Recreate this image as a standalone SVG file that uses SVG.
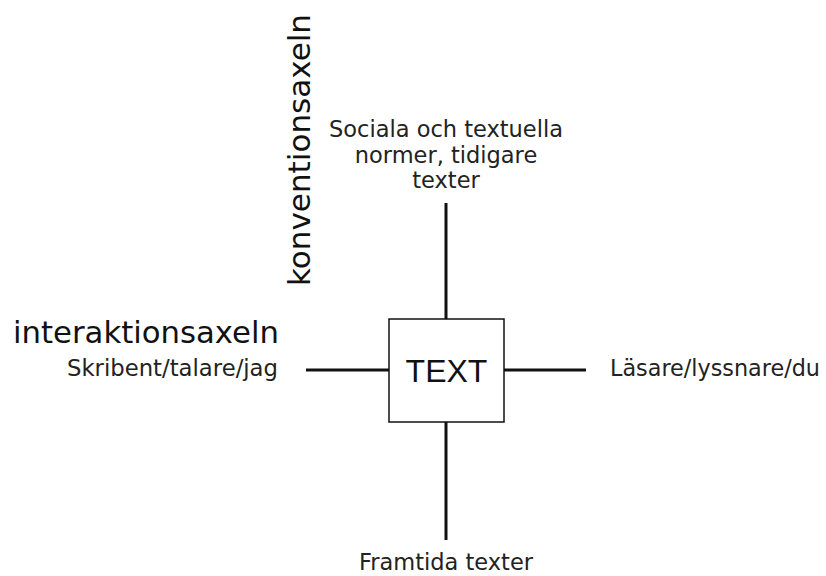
<svg xmlns="http://www.w3.org/2000/svg" width="826" height="576" viewBox="0 0 826 576">
<style>
.ln{stroke:#111;stroke-width:3;fill:none}
.lbl{font-family:"DejaVu Sans",Verdana,sans-serif;font-size:22.5px;fill:#222}
.ax{font-family:"DejaVu Sans",sans-serif;font-size:30px;fill:#111}
</style>
<rect width="826" height="576" fill="#fff"/>
<g id="connectors">
<line class="ln" x1="446" y1="203" x2="446" y2="319"/>
<line class="ln" x1="446" y1="422" x2="446" y2="540"/>
<line class="ln" x1="306" y1="370" x2="389" y2="370"/>
<line class="ln" x1="504" y1="370" x2="586" y2="370"/>
</g>
<g id="text-node">
<rect x="389" y="319" width="115" height="103" fill="#fff" stroke="#111" stroke-width="1.5"/>
<text x="446.5" y="382" text-anchor="middle" font-family="Liberation Sans,Arial,sans-serif" font-size="32" fill="#111">TEXT</text>
</g>
<g id="top-label">
<text class="lbl" text-anchor="middle"><tspan x="446" y="137">Sociala och textuella</tspan><tspan x="446" y="163">normer, tidigare</tspan><tspan x="446" y="188">texter</tspan></text>
</g>
<g id="bottom-label"><text class="lbl" x="446" y="570" text-anchor="middle" textLength="174" lengthAdjust="spacingAndGlyphs">Framtida texter</text></g>
<g id="left-label"><text class="lbl" x="67" y="376" textLength="211" lengthAdjust="spacingAndGlyphs">Skribent/talare/jag</text></g>
<g id="right-label"><text class="lbl" x="610" y="376" textLength="210" lengthAdjust="spacingAndGlyphs">Läsare/lyssnare/du</text></g>
<g id="interaktionsaxeln"><text class="ax" x="13" y="343" textLength="266" lengthAdjust="spacingAndGlyphs">interaktionsaxeln</text></g>
<g id="konventionsaxeln"><text class="ax" transform="translate(310,286) rotate(-90)" textLength="272" lengthAdjust="spacingAndGlyphs">konventionsaxeln</text></g>
</svg>
